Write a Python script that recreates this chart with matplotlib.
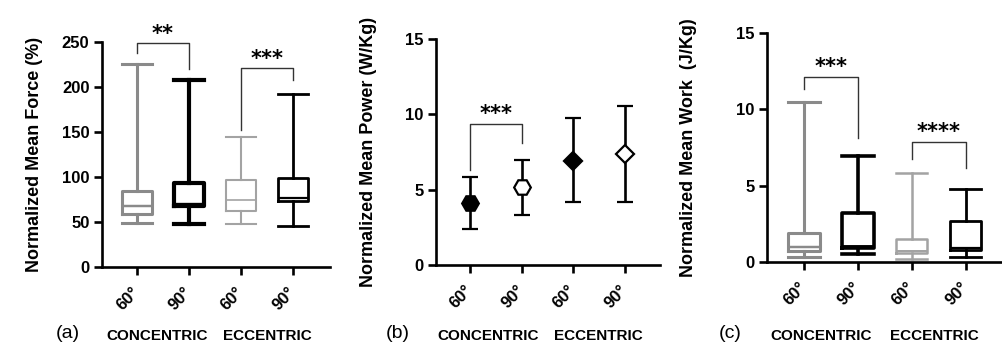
import matplotlib
matplotlib.use("Agg")
import matplotlib.pyplot as plt

plt.rcParams["font.family"] = ["Liberation Sans", "DejaVu Sans"]

# tick labels / groups
angle_labels = ["60°", "90°", "60°", "90°"]
group_labels = ["CONCENTRIC", "ECCENTRIC"]

# (a) normalized mean force (%) - box summaries
force_whislo = [49, 48, 48, 46]
force_q1 = [59, 68, 62, 73]
force_med = [68, 70, 74, 77]
force_q3 = [84, 93, 97, 99]
force_whishi = [225, 208, 144, 192]

# (b) normalized mean power (W/Kg) - mean with error range
power_mean = [4.1, 5.15, 6.9, 7.35]
power_low = [2.4, 3.35, 4.15, 4.15]
power_high = [5.85, 7.0, 9.75, 10.55]

# (c) normalized mean work (J/Kg) - box summaries
work_whislo = [0.33, 0.5, 0.2, 0.35]
work_q1 = [0.75, 0.9, 0.6, 0.8]
work_med = [1.0, 1.05, 0.7, 0.9]
work_q3 = [1.9, 3.2, 1.5, 2.7]
work_whishi = [10.5, 6.95, 5.8, 4.8]

# significance brackets: (x1, x2, top, left end, right end, label)
force_sig = [(1, 2, 249, 238, 220, "**"), (3, 4, 221, 152, 208, "***")]
power_sig = [(1, 2, 9.35, 6.3, 8.1, "***")]
work_sig = [(1, 2, 12.1, 11.3, 8.1, "***"), (3, 4, 7.85, 6.75, 6.15, "****")]

box_colors = ["#8a8a8a", "#000000", "#a3a3a3", "#000000"]
force_lw = [2.2, 3.0, 1.5, 2.0]
work_lw = [2.2, 2.6, 1.8, 2.0]

W, H = 1003, 347
fig = plt.figure(figsize=(W / 100, H / 100), dpi=100)


def axes_px(left, right, top, bottom):
    return fig.add_axes([left / W, (H - bottom) / H, (right - left) / W, (bottom - top) / H])


def style_axes(ax, ylabel, label_x):
    for s in ["top", "right"]:
        ax.spines[s].set_visible(False)
    for s in ["left", "bottom"]:
        ax.spines[s].set_linewidth(1.9)
    ax.tick_params(axis="both", width=1.9, length=5.5, labelsize=12)
    ax.tick_params(axis="x", pad=11, labelsize=12)
    ax.set_xticks([1, 2, 3, 4])
    ax.set_xticklabels(angle_labels, rotation=45, ha="right", va="center",
                       rotation_mode="anchor", fontweight="bold")
    for lab in ax.get_yticklabels():
        lab.set_fontweight("bold")
    ax.set_ylabel(ylabel, fontsize=13, fontweight="bold")
    ax.yaxis.set_label_coords(label_x, 0.5)


def draw_boxes(ax, lo, q1, med, q3, hi, lws):
    for i in range(4):
        st = [{"whislo": lo[i], "q1": q1[i], "med": med[i], "q3": q3[i],
               "whishi": hi[i], "fliers": []}]
        c = box_colors[i]
        lw = lws[i]
        ax.bxp(st, positions=[i + 1], widths=0.58, showfliers=False,
               boxprops=dict(color=c, linewidth=lw),
               whiskerprops=dict(color=c, linewidth=lw),
               capprops=dict(color=c, linewidth=lw),
               medianprops=dict(color=c, linewidth=lw * 0.8),
               capwidths=0.58, manage_ticks=False)


def draw_sig(ax, sigs, star_off):
    for x1, x2, top, yl, yr, lab in sigs:
        ax.plot([x1, x1, x2, x2], [yl, top, top, yr], color="#333333", lw=1.0,
                clip_on=False)
        ax.text((x1 + x2) / 2, top + star_off, lab, ha="center", va="center",
                fontsize=15, fontweight="bold", family="DejaVu Sans", clip_on=False)


# panel (a)
ax1 = axes_px(102, 330, 42, 267)
draw_boxes(ax1, force_whislo, force_q1, force_med, force_q3, force_whishi, force_lw)
ax1.set_xlim(0.33, 4.71)
ax1.set_ylim(0, 250)
ax1.set_yticks([0, 50, 100, 150, 200, 250])
style_axes(ax1, "Normalized Mean Force (%)", -0.26)
draw_sig(ax1, force_sig, 10)

# panel (b)
ax2 = axes_px(436, 660, 39, 265)
markers = ["H", "H", "D", "D"]
faces = ["black", "white", "black", "white"]
sizes = [12, 12, 9, 9]
for i in range(4):
    ax2.errorbar([i + 1], [power_mean[i]],
                 yerr=[[power_mean[i] - power_low[i]], [power_high[i] - power_mean[i]]],
                 fmt=markers[i], mfc=faces[i], mec="black", mew=1.6, ms=sizes[i],
                 ecolor="black", elinewidth=1.9, capsize=5.5, capthick=1.9, color="black")
ax2.set_xlim(0.34, 4.68)
ax2.set_ylim(0, 15)
ax2.set_yticks([0, 5, 10, 15])
style_axes(ax2, "Normalized Mean Power (W/Kg)", -0.265)
draw_sig(ax2, power_sig, 0.65)

# panel (c)
ax3 = axes_px(767, 1003, 33, 262)
draw_boxes(ax3, work_whislo, work_q1, work_med, work_q3, work_whishi, work_lw)
ax3.set_xlim(0.315, 4.69)
ax3.set_ylim(0, 15)
ax3.set_yticks([0, 5, 10, 15])
style_axes(ax3, "Normalized Mean Work  (J/Kg)", -0.297)
draw_sig(ax3, work_sig, 0.65)

# panel letters and group labels
panel_text = [("(a)", 68, 157, 267), ("(b)", 398, 488, 598), ("(c)", 730, 821, 934)]
for letter, xl, xc, xe in panel_text:
    fig.text(xl / W, 1 - 334 / H, letter, ha="center", va="center", fontsize=14)
    fig.text(xc / W, 1 - 336 / H, group_labels[0], ha="center", va="center",
             fontsize=11, fontweight="bold")
    fig.text(xe / W, 1 - 336 / H, group_labels[1], ha="center", va="center",
             fontsize=11, fontweight="bold")

fig.savefig("out.png", dpi=100)
